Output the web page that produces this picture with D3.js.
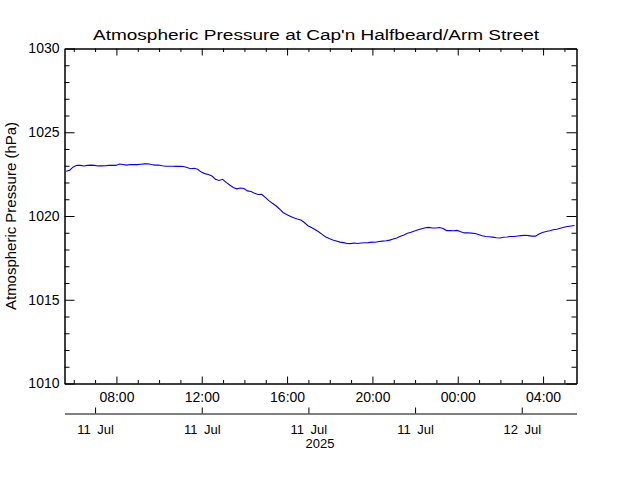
<!DOCTYPE html>
<html>
<head>
<meta charset="utf-8">
<script src="https://cdn.jsdelivr.net/npm/d3@7"></script>
<style>
  html, body { margin: 0; padding: 0; background: #fff; }
  svg { display: block; }
  text { font-family: "Liberation Sans", Arial, sans-serif; fill: #000; }
</style>
</head>
<body>
<svg id="chart" width="640" height="480"></svg>
<script>
// ---------------- data ----------------
const chartTitle = "Atmospheric Pressure at Cap'n Halfbeard/Arm Street";
const yAxisTitle = "Atmospheric Pressure (hPa)";
const seriesStart = "2025-07-11 05:40";   // first sample
const sampleStepMinutes = 10;              // sampling interval
const pressure = [
  1022.64, 1022.70, 1022.90, 1023.00, 1022.99, 1022.96, 1022.99, 1023.01, 1022.99, 1022.96, 1022.96, 1022.97,
  1022.99, 1023.00, 1022.99, 1023.07, 1023.04, 1023.01, 1023.04, 1023.04, 1023.04, 1023.06, 1023.08, 1023.09,
  1023.04, 1023.01, 1023.01, 1022.97, 1022.94, 1022.94, 1022.94, 1022.93, 1022.94, 1022.93, 1022.87, 1022.79,
  1022.82, 1022.76, 1022.59, 1022.50, 1022.45, 1022.36, 1022.17, 1022.09, 1022.16, 1021.98, 1021.82, 1021.67,
  1021.59, 1021.64, 1021.61, 1021.47, 1021.43, 1021.33, 1021.25, 1021.27, 1021.08, 1020.89, 1020.73, 1020.58,
  1020.39, 1020.18, 1020.06, 1019.96, 1019.86, 1019.79, 1019.73, 1019.58, 1019.39, 1019.28, 1019.16, 1019.03,
  1018.87, 1018.72, 1018.62, 1018.54, 1018.48, 1018.41, 1018.38, 1018.33, 1018.32, 1018.36, 1018.33, 1018.36,
  1018.37, 1018.38, 1018.41, 1018.40, 1018.45, 1018.47, 1018.49, 1018.53, 1018.60, 1018.66, 1018.76, 1018.84,
  1018.94, 1019.00, 1019.07, 1019.15, 1019.21, 1019.27, 1019.29, 1019.25, 1019.25, 1019.28, 1019.22, 1019.10,
  1019.10, 1019.09, 1019.11, 1019.03, 1018.96, 1018.97, 1018.95, 1018.93, 1018.87, 1018.79, 1018.75, 1018.73,
  1018.71, 1018.67, 1018.66, 1018.70, 1018.72, 1018.75, 1018.75, 1018.78, 1018.80, 1018.82, 1018.80, 1018.77,
  1018.77, 1018.90, 1018.99, 1019.04, 1019.09, 1019.15, 1019.18, 1019.24, 1019.30, 1019.34, 1019.37, 1019.40
];
const xDomain = ["2025-07-11 05:34", "2025-07-12 05:34"];
const yDomain = [1010, 1030];
const yMajorTicks = [1010, 1015, 1020, 1025, 1030];
const hourTicks = ["2025-07-11 08:00", "2025-07-11 12:00", "2025-07-11 16:00",
                   "2025-07-11 20:00", "2025-07-12 00:00", "2025-07-12 04:00"];
const hourLabels = ["08:00", "12:00", "16:00", "20:00", "00:00", "04:00"];
const dateTicks = ["2025-07-11 07:00", "2025-07-11 12:00", "2025-07-11 17:00",
                   "2025-07-11 22:00", "2025-07-12 03:00"];
const dateLabels = ["11\u2002Jul", "11\u2002Jul", "11\u2002Jul", "11\u2002Jul", "12\u2002Jul"];
const yearLabel = "2025";

// ---------------- layout ----------------
const L = 64, R = 576, T = 48, B = 383;
const dateAxisY = 413;
const parse = d3.timeParse("%Y-%m-%d %H:%M");

const svg = d3.select("#chart");

const x = d3.scaleTime().domain(xDomain.map(parse)).range([L, R]);
const y = d3.scaleLinear().domain(yDomain).range([B, T]);

const t0 = parse(seriesStart);
const data = pressure.map((v, i) => ({ t: d3.timeMinute.offset(t0, i * sampleStepMinutes), v }));

const minorY = d3.range(yDomain[0], yDomain[1] + 1, 1).filter(v => !yMajorTicks.includes(v));
const allHours = d3.timeHour.range(parse(xDomain[0]), parse(xDomain[1]));
const majorHourSet = new Set(hourTicks.map(s => +parse(s)));
const minorHours = allHours.filter(d => !majorHourSet.has(+d));

const g = svg.append("g").attr("transform", "translate(0.5,0.5)");

function styleAxis(sel, fs) {
  sel.selectAll("path.domain").attr("stroke", "#000");
  sel.selectAll(".tick line").attr("stroke", "#000");
  sel.selectAll("text").attr("font-size", fs || 14).attr("font-family", "Liberation Sans, Arial, sans-serif").attr("fill", "#000");
}

// Left axis
g.append("g").attr("transform", `translate(${L},0)`)
  .call(d3.axisLeft(y).tickValues(yMajorTicks).tickSize(-10).tickSizeOuter(0).tickPadding(5).tickFormat(d3.format("d")))
  .call(styleAxis);
g.append("g").attr("transform", `translate(${L},0)`)
  .call(d3.axisLeft(y).tickValues(minorY).tickSize(-5).tickSizeOuter(0).tickFormat(""))
  .call(styleAxis);
// Right axis
g.append("g").attr("transform", `translate(${R},0)`)
  .call(d3.axisRight(y).tickValues(yMajorTicks).tickSize(-10).tickSizeOuter(0).tickFormat(""))
  .call(styleAxis);
g.append("g").attr("transform", `translate(${R},0)`)
  .call(d3.axisRight(y).tickValues(minorY).tickSize(-5).tickSizeOuter(0).tickFormat(""))
  .call(styleAxis);
// Top axis
g.append("g").attr("transform", `translate(0,${T})`)
  .call(d3.axisTop(x).tickValues(hourTicks.map(parse)).tickSize(-7).tickSizeOuter(0).tickFormat(""))
  .call(styleAxis);
g.append("g").attr("transform", `translate(0,${T})`)
  .call(d3.axisTop(x).tickValues(minorHours).tickSize(-3.5).tickSizeOuter(0).tickFormat(""))
  .call(styleAxis);
// Bottom axis
g.append("g").attr("transform", `translate(0,${B})`)
  .call(d3.axisBottom(x).tickValues(hourTicks.map(parse)).tickSize(-7).tickSizeOuter(0).tickPadding(9)
    .tickFormat((d, i) => hourLabels[i]))
  .call(styleAxis);
g.append("g").attr("transform", `translate(0,${B})`)
  .call(d3.axisBottom(x).tickValues(minorHours).tickSize(-3.5).tickSizeOuter(0).tickFormat(""))
  .call(styleAxis);
// Date axis
g.append("g").attr("transform", `translate(0,${dateAxisY})`)
  .call(d3.axisBottom(x).tickValues(dateTicks.map(parse)).tickSize(-6).tickSizeOuter(0).tickPadding(11)
    .tickFormat((d, i) => dateLabels[i]))
  .call(sel => styleAxis(sel, 13));

svg.append("text")
  .attr("x", (L + R) / 2).attr("y", 448)
  .attr("text-anchor", "middle").attr("font-size", 13)
  .text(yearLabel);

// Line
const line = d3.line().x(d => x(d.t)).y(d => y(d.v));
svg.append("path")
  .datum(data)
  .attr("fill", "none")
  .attr("stroke", "#0000ff")
  .attr("stroke-width", 1.1)
  .attr("d", line);

// Titles
svg.append("text")
  .attr("x", 316).attr("y", 40)
  .attr("text-anchor", "middle").attr("font-size", 15.5)
  .attr("textLength", 446).attr("lengthAdjust", "spacingAndGlyphs")
  .text(chartTitle);

svg.append("text")
  .attr("transform", "translate(16,216) rotate(-90)")
  .attr("text-anchor", "middle").attr("font-size", 14)
  .attr("textLength", 188).attr("lengthAdjust", "spacingAndGlyphs")
  .text(yAxisTitle);
</script>
</body>
</html>
